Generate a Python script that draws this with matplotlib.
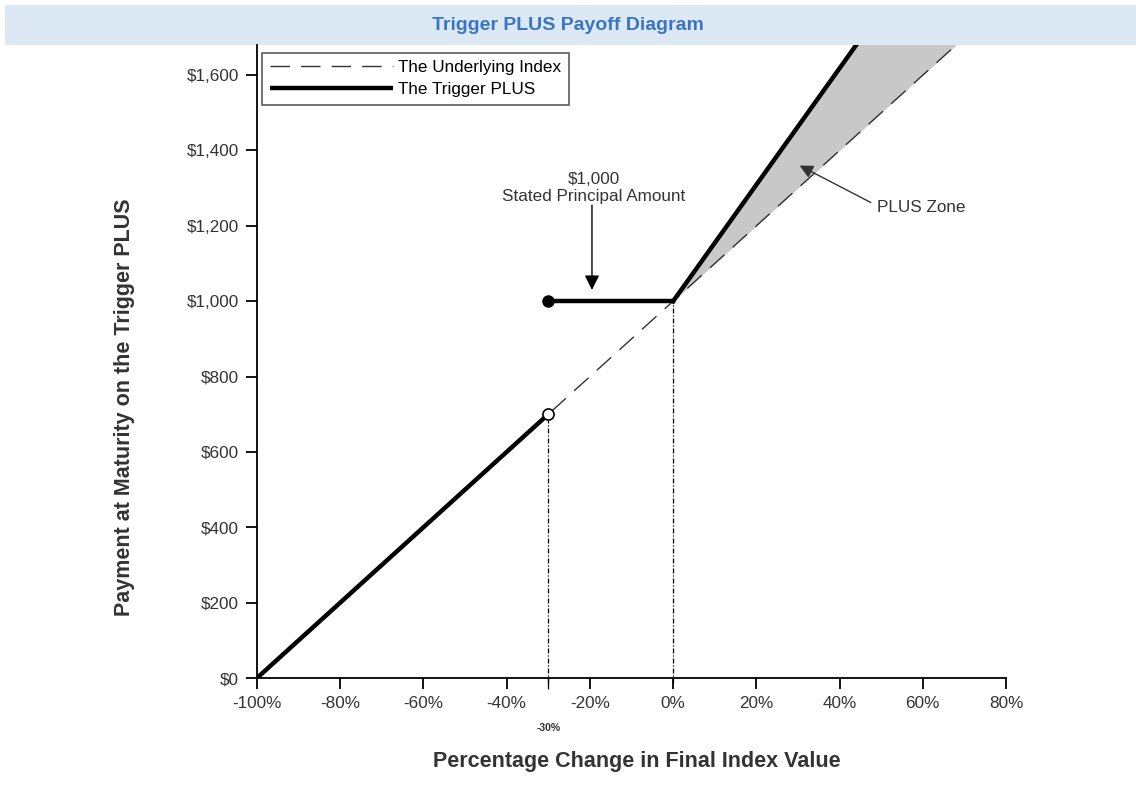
import matplotlib.pyplot as plt
from matplotlib.patches import Rectangle

plt.rcParams['font.family'] = ['Liberation Sans', 'DejaVu Sans']

# Values (x in % change of index, y in $ payment)
x_ticks = [-100, -80, -60, -40, -20, 0, 20, 40, 60, 80]
y_ticks = [0, 200, 400, 600, 800, 1000, 1200, 1400, 1600]

underlying_x = [-100, 68]
underlying_y = [0, 1680]

plus_down_x = [-100, -30]
plus_down_y = [0, 700]
plus_flat_x = [-30, 0]
plus_flat_y = [1000, 1000]
plus_up_x = [0, 44]
plus_up_y = [1000, 1680]

zone_x = [0, 44, 68]
zone_y = [1000, 1680, 1680]

trigger_level = -30
principal = 1000

fig = plt.figure(figsize=(11.36, 7.99), dpi=100)

# title banner
fig.add_artist(Rectangle((5 / 1136, 1 - 45 / 799), 1 - 5 / 1136, 40 / 799,
                         transform=fig.transFigure, facecolor='#dce9f4',
                         edgecolor='none', zorder=0))
fig.text(0.5, 1 - 26 / 799, 'Trigger PLUS Payoff Diagram', ha='center', va='center',
         fontsize=14, fontweight='bold', color='#3a74c6')

ax = fig.add_axes([257 / 1136, 1 - 678 / 799, 749 / 1136, 633 / 799])
ax.patch.set_facecolor('none')

# shaded PLUS zone
ax.fill(zone_x, zone_y, color='#c8c8c8', zorder=1)

# underlying index (dashed)
ax.plot(underlying_x, underlying_y, color='#333333', lw=1,
        dashes=(14, 8), label='The Underlying Index', zorder=2)

# Trigger PLUS payoff
ax.plot(plus_down_x, plus_down_y, color='black', lw=3.2, zorder=3,
        label='The Trigger PLUS', solid_capstyle='butt')
ax.plot(plus_flat_x, plus_flat_y, color='black', lw=3.2, zorder=3)
ax.plot(plus_up_x, plus_up_y, color='black', lw=3.2, zorder=3)

ax.plot([trigger_level], [principal], 'o', color='black', ms=8, zorder=4)
ax.plot([trigger_level], [plus_down_y[-1]], 'o', mfc='white', mec='black',
        mew=1.2, ms=8, zorder=4)

# vertical reference lines
ax.plot([trigger_level, trigger_level], [-12, plus_down_y[-1]], color='black',
        lw=0.9, dashes=(4, 1.5, 1, 1.5), zorder=2, clip_on=False)
ax.plot([0, 0], [-12, principal], color='black', lw=0.9,
        dashes=(4, 1.5, 1, 1.5), zorder=2, clip_on=False)

ax.set_xlim(-100, 80)
ax.set_ylim(0, 1680)

for s in ['top', 'right']:
    ax.spines[s].set_visible(False)
for s in ['left', 'bottom']:
    ax.spines[s].set_linewidth(1.3)

ax.set_xticks(x_ticks)
ax.set_xticklabels([f'{v}%' for v in x_ticks])
ax.set_yticks(y_ticks)
ax.set_yticklabels([f'${v:,}' for v in y_ticks])
ax.tick_params(direction='out', length=8, width=1.3, labelsize=12.3,
               labelcolor='#333333', pad=5)
ax.set_xticks([trigger_level], minor=True)
ax.tick_params(axis='x', which='minor', length=8, width=0.9)

ax.text(trigger_level, -133, '-30%', ha='center', va='center', fontsize=7.5,
        fontweight='bold', color='#333333')

ax.set_xlabel('Percentage Change in Final Index Value', fontsize=15.5,
              fontweight='bold', color='#333333')
ax.xaxis.set_label_coords(0.507, -0.115)
ax.set_ylabel('Payment at Maturity on the Trigger PLUS', fontsize=15.5,
              fontweight='bold', color='#333333')
ax.yaxis.set_label_coords(-0.163, 0.427)

# annotations
ax.text(-19, 1300, '$1,000\nStated Principal Amount', ha='center', va='center',
        fontsize=12.3, color='#333333', linespacing=1.2)
ax.annotate('', xy=(-19.5, 1030), xytext=(-19.5, 1255),
            arrowprops=dict(arrowstyle='-|>', color='black', lw=1,
                            mutation_scale=22, shrinkA=0, shrinkB=0))
ax.text(49, 1250, 'PLUS Zone', ha='left', va='center', fontsize=12.3,
        color='#333333')
ax.annotate('', xy=(30.4, 1360), xytext=(47.5, 1262),
            arrowprops=dict(arrowstyle='-|>', color='#333333', lw=1,
                            mutation_scale=20, shrinkA=0, shrinkB=0))

leg = ax.legend(loc='upper left', bbox_to_anchor=(0.007, 0.988), fontsize=12.3,
                frameon=True, fancybox=False, edgecolor='#333333',
                handlelength=7.2, borderpad=0.45, labelspacing=0.4,
                handletextpad=0.3, borderaxespad=0)
leg.get_frame().set_linewidth(1.2)

plt.savefig('out.png', dpi=100)
